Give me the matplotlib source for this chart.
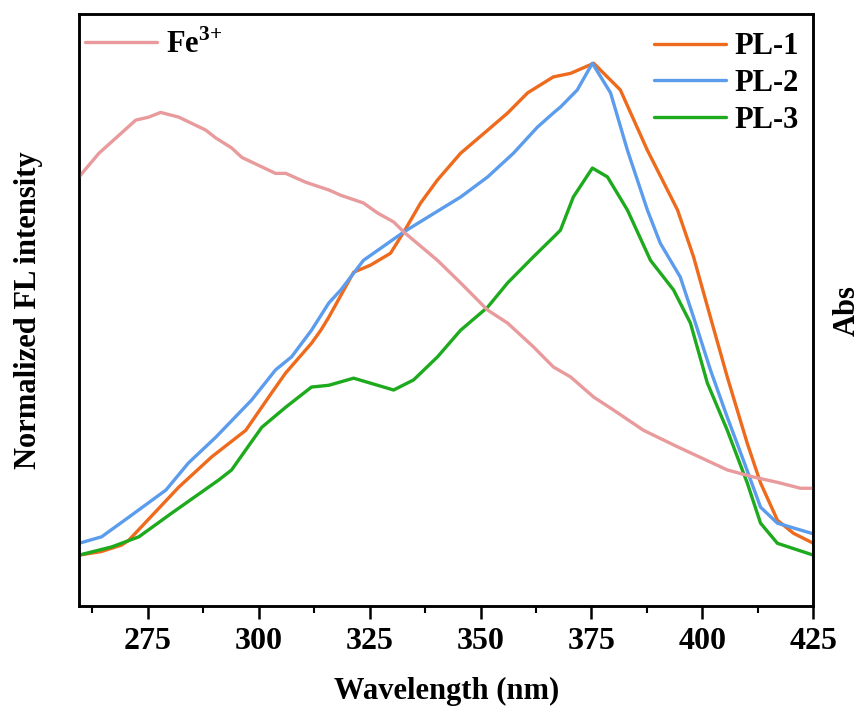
import matplotlib.pyplot as plt
import numpy as np

plt.rcParams['font.family'] = ['Liberation Serif', 'DejaVu Serif']
plt.rcParams['font.weight'] = 'bold'
plt.rcParams['mathtext.fontset'] = 'custom'
plt.rcParams['mathtext.rm'] = 'Liberation Serif'

# PL spectra (normalized)
wl_pl1 = [259.5, 264.5, 269.1, 270.7, 282.0, 289.4, 297.1, 302.9, 306.1, 311.9, 314.0, 315.8,
          321.4, 325.2, 329.7, 332.7, 336.5, 340.3, 345.5, 351.6, 356.1, 360.6, 366.4, 370.3,
          375.5, 381.5, 387.6, 394.4, 398.0, 401.8, 405.6, 410.1, 413.1, 416.9, 420.5, 425.0]
pl1 = [0.086, 0.092, 0.103, 0.111, 0.201, 0.252, 0.297, 0.360, 0.394, 0.444, 0.466, 0.488,
       0.564, 0.576, 0.596, 0.632, 0.681, 0.720, 0.765, 0.804, 0.833, 0.867, 0.894, 0.900,
       0.917, 0.872, 0.770, 0.669, 0.590, 0.488, 0.387, 0.275, 0.208, 0.145, 0.123, 0.106]

wl_pl2 = [259.5, 264.6, 270.7, 279.1, 284.2, 290.3, 298.4, 303.8, 307.4, 311.9, 315.8, 318.5,
          323.6, 332.7, 338.1, 345.5, 351.6, 357.4, 362.8, 366.4, 368.0, 371.8, 375.2, 379.3,
          383.1, 387.6, 390.5, 395.0, 398.0, 401.8, 405.6, 409.2, 413.1, 416.9, 425.0]
pl2 = [0.106, 0.117, 0.150, 0.196, 0.242, 0.285, 0.348, 0.399, 0.421, 0.466, 0.512, 0.534,
       0.584, 0.632, 0.657, 0.691, 0.725, 0.765, 0.809, 0.833, 0.843, 0.872, 0.917, 0.867,
       0.770, 0.669, 0.613, 0.556, 0.488, 0.399, 0.319, 0.247, 0.167, 0.140, 0.122]

wl_pl3 = [259.5, 266.9, 273.0, 280.4, 291.0, 293.9, 297.1, 300.7, 306.1, 311.9, 315.8, 321.4,
          330.4, 334.9, 340.3, 345.5, 351.6, 356.1, 361.9, 366.4, 368.0, 370.9, 375.2, 378.6,
          383.1, 388.3, 393.5, 397.3, 401.1, 405.6, 410.1, 413.1, 416.9, 425.0]
pl3 = [0.086, 0.100, 0.117, 0.157, 0.213, 0.230, 0.264, 0.302, 0.336, 0.370, 0.373, 0.385,
       0.365, 0.382, 0.421, 0.466, 0.505, 0.546, 0.590, 0.623, 0.635, 0.691, 0.740, 0.725,
       0.669, 0.584, 0.534, 0.478, 0.377, 0.297, 0.208, 0.140, 0.106, 0.086]

# Fe3+ absorbance (arbitrary)
wl_fe = [259.5, 264.0, 272.3, 275.2, 277.9, 282.0, 288.1, 290.3, 293.9, 296.2, 303.8, 306.1,
         310.6, 315.8, 318.5, 323.6, 326.8, 330.4, 332.7, 340.3, 345.5, 351.6, 356.1, 361.9,
         366.4, 370.3, 375.5, 380.0, 386.7, 394.4, 405.6, 411.5, 416.9, 422.1, 425.0]
fe = [0.725, 0.765, 0.821, 0.826, 0.834, 0.826, 0.804, 0.791, 0.774, 0.758, 0.731, 0.731,
      0.716, 0.703, 0.694, 0.681, 0.664, 0.649, 0.632, 0.584, 0.546, 0.500, 0.478, 0.438,
      0.404, 0.387, 0.353, 0.331, 0.297, 0.269, 0.230, 0.218, 0.209, 0.199, 0.199]

fig = plt.figure(figsize=(8.65, 7.08), dpi=100)
ax = fig.add_axes([0.0913, 0.144, 0.849, 0.836])
ax2 = ax.twinx()

lw = 2.4
kw = dict(lw=lw, solid_joinstyle='round', solid_capstyle='round')
l1, = ax.plot(wl_pl1, pl1, color='#EE6A1C', label='PL-1', **kw)
l2, = ax.plot(wl_pl2, pl2, color='#5C9CEC', label='PL-2', **kw)
l3, = ax.plot(wl_pl3, pl3, color='#1DAA1D', label='PL-3', **kw)
lf, = ax2.plot(wl_fe, fe, color='#E89A9C', label='Fe$^{3\\!+}$', **kw)

for a in (ax, ax2):
    a.set_ylim(0, 1)
    a.set_yticks([])
    for s in a.spines.values():
        s.set_linewidth(1.8)
ax.set_xlim(259.5, 425)
ax.set_xticks([275, 300, 325, 350, 375, 400, 425])
ax.set_xticks(np.arange(262.5, 425, 25), minor=True)
ax.tick_params(axis='x', which='major', direction='out', length=9, width=1.8,
               labelsize=23, pad=6)
ax.tick_params(axis='x', which='minor', direction='out', length=5, width=1.5)

ax.set_xlabel('Wavelength (nm)', fontsize=22, fontweight='bold', labelpad=15)
ax.set_ylabel('Normalized FL intensity', fontsize=22, fontweight='bold', labelpad=26)
ax2.set_ylabel('Abs', fontsize=22, fontweight='bold', labelpad=14)

ax.legend(handles=[l1, l2, l3], loc='upper right', frameon=False, fontsize=22,
          handlelength=2.35, handletextpad=0.3, labelspacing=0.25,
          borderaxespad=0.2, bbox_to_anchor=(1.006, 1.0))
ax2.legend(handles=[lf], loc='upper left', frameon=False, fontsize=22,
           handlelength=2.35, handletextpad=0.3, borderaxespad=0.1,
           bbox_to_anchor=(-0.013, 1.0))

fig.savefig('out.png', dpi=100)
